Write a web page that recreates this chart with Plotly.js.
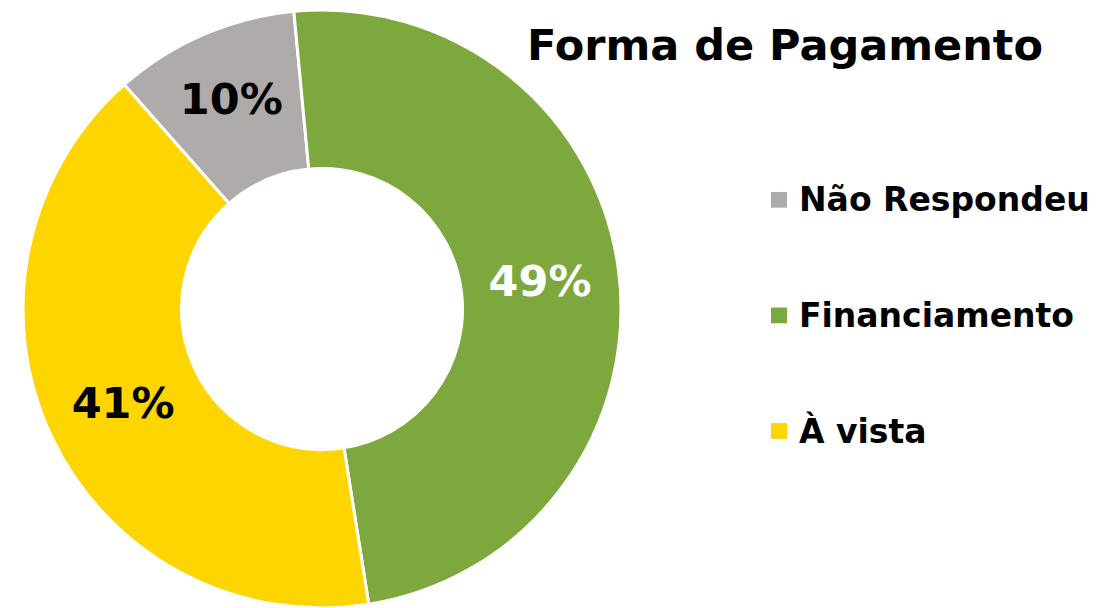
<!DOCTYPE html>
<html>
<head>
<meta charset="utf-8">
<script src="https://cdn.plot.ly/plotly-3.0.1.min.js"></script>
<style>html,body{margin:0;padding:0;background:#fff;}#chart{width:1097px;height:608px;}</style>
</head>
<body>
<div id="chart"></div>
<script>
const titleText = "Forma de Pagamento";
const categories = ["Não Respondeu", "Financiamento", "À vista"];
const values = [10, 49, 41];
const colors = ["#AFABAB", "#7CA83E", "#FFD500"];
const labelColors = ["#000000", "#FFFFFF", "#000000"];

const FONT = "'DejaVu Sans', Verdana, sans-serif";

const trace = {
  type: "pie",
  labels: categories,
  values: values,
  hole: 0.47,
  sort: false,
  direction: "clockwise",
  rotation: -41.4,
  marker: { colors: colors, line: { color: "#FFFFFF", width: 3 } },
  texttemplate: "%{percent:.0%}",
  textposition: "inside",
  insidetextorientation: "horizontal",
  textfont: { family: FONT, size: 43, color: labelColors, weight: "bold" },
  domain: { x: [0, 644 / 1097], y: [0, 1] },
  showlegend: false,
  hoverinfo: "label+percent"
};

// custom legend (large vertical spacing)
const legTop = 193, legStep = 117.5, H = 608, W = 1097;
const shapes = [], annotations = [];
categories.forEach((c, i) => {
  const yc = legTop + i * legStep;
  shapes.push({
    type: "rect", xref: "paper", yref: "paper",
    x0: 771 / W, x1: 787 / W, y0: 1 - (yc + 8) / H, y1: 1 - (yc - 8) / H,
    fillcolor: colors[i], line: { width: 0 }
  });
  annotations.push({
    xref: "paper", yref: "paper", x: 797 / W, y: 1 - yc / H,
    xanchor: "left", yanchor: "middle", showarrow: false,
    text: "<b>" + c + "</b>",
    font: { family: FONT, size: 33, color: "#000000" }
  });
});

const layout = {
  width: 1097, height: 608,
  margin: { l: 0, r: 0, t: 10, b: 0 },
  paper_bgcolor: "#FFFFFF",
  title: {
    text: "<b>" + titleText + "</b>",
    font: { family: FONT, size: 43, color: "#000000" },
    x: 785 / W, xanchor: "center", xref: "paper",
    y: 1 - 45 / H, yanchor: "middle", yref: "container"
  },
  shapes: shapes,
  annotations: annotations
};

Plotly.newPlot("chart", [trace], layout, { displayModeBar: false, staticPlot: true });
</script>
</body>
</html>
